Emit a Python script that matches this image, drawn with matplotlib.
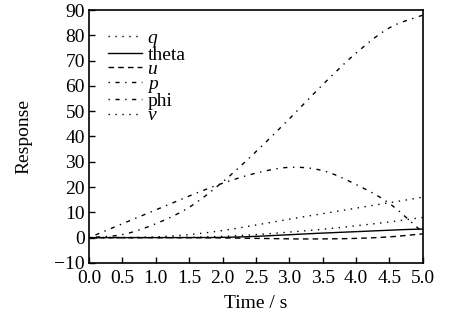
import matplotlib
matplotlib.use("Agg")
import matplotlib.pyplot as plt
import numpy as np

plt.rcParams['font.family'] = ['Liberation Serif', 'DejaVu Serif']
plt.rcParams['mathtext.fontset'] = 'custom'
plt.rcParams['mathtext.it'] = 'Liberation Serif:italic'
plt.rcParams['mathtext.rm'] = 'Liberation Serif'

t = [0.0, 0.5, 1.0, 1.5, 2.0, 2.5, 3.0, 3.5, 4.0, 4.5, 5.0]
q = [0.0, 0.0, 0.3, 1.2, 2.8, 5.0, 7.3, 9.5, 11.7, 13.8, 16.0]
theta = [0.0, 0.0, 0.0, 0.0, 0.1, 0.5, 1.2, 1.8, 2.4, 3.0, 3.4]
u = [0.0, 0.0, 0.0, 0.0, -0.1, -0.3, -0.5, -0.5, -0.3, 0.3, 1.5]
p = [0.0, 5.5, 11.0, 16.5, 21.5, 25.5, 27.8, 26.5, 21.0, 13.5, 2.0]
phi = [0.0, 1.2, 5.5, 12.0, 22.0, 34.0, 47.0, 60.5, 73.0, 83.0, 88.0]
v = [0.0, 0.0, 0.0, 0.1, 0.5, 1.2, 2.2, 3.3, 4.7, 6.2, 8.0]

xticks = [0.0, 0.5, 1.0, 1.5, 2.0, 2.5, 3.0, 3.5, 4.0, 4.5, 5.0]
yticks = [-10, 0, 10, 20, 30, 40, 50, 60, 70, 80, 90]

fig = plt.figure(figsize=(4.53, 3.25), dpi=100)
ax = fig.add_axes([0.1965, 0.191, 0.737, 0.778])

ts = np.linspace(0, 5, 200)
def smooth(y):
    tt = np.array(t); yy = np.array(y)
    m = np.gradient(yy, tt)
    out = np.empty_like(ts)
    for i, x in enumerate(ts):
        k = min(np.searchsorted(tt, x, side='right') - 1, len(tt) - 2)
        h = tt[k + 1] - tt[k]
        s = (x - tt[k]) / h
        h00 = 2*s**3 - 3*s**2 + 1; h10 = s**3 - 2*s**2 + s
        h01 = -2*s**3 + 3*s**2; h11 = s**3 - s**2
        out[i] = h00*yy[k] + h10*h*m[k] + h01*yy[k+1] + h11*h*m[k+1]
    return out

lw = 1.0
ax.plot(ts, smooth(q), color='black', lw=lw, linestyle=(0, (1, 4)), label=r'$q$')
ax.plot(ts, smooth(theta), color='black', lw=lw, linestyle='-', label='theta')
ax.plot(ts, smooth(u), color='black', lw=lw, linestyle=(0, (4, 3)), label=r'$u$')
ax.plot(ts, smooth(p), color='black', lw=lw, linestyle=(0, (1, 4, 3, 4)), label=r'$p$')
ax.plot(ts, smooth(phi), color='black', lw=lw, linestyle=(0, (1, 4, 3, 4)), label='phi')
ax.plot(ts, smooth(v), color='black', lw=lw, linestyle=(0, (1, 4)), label=r'$v$')

ax.set_xlim(0, 5)
ax.set_ylim(-10, 90)
ax.set_xticks(xticks)
ax.set_xticklabels([f'{x:.1f}' for x in xticks])
ax.set_yticks(yticks)
ax.set_yticklabels([('\u2212' + str(-y)) if y < 0 else str(y) for y in yticks])
ax.tick_params(direction='in', length=4, width=1, labelsize=14, top=False, right=False)
ax.tick_params(axis='x', pad=5)
ax.tick_params(axis='y', pad=3)
for s in ax.spines.values():
    s.set_linewidth(1.2)
ax.set_xlabel('Time / s', fontsize=14, labelpad=6)
ax.set_ylabel('Response', fontsize=14, labelpad=16)

leg = ax.legend(loc='upper left', frameon=False, fontsize=14, handlelength=1.7,
                handletextpad=0.3, labelspacing=-0.15, borderaxespad=0.0,
                bbox_to_anchor=(0.035, 0.955))

fig.savefig('out.png', dpi=100)
